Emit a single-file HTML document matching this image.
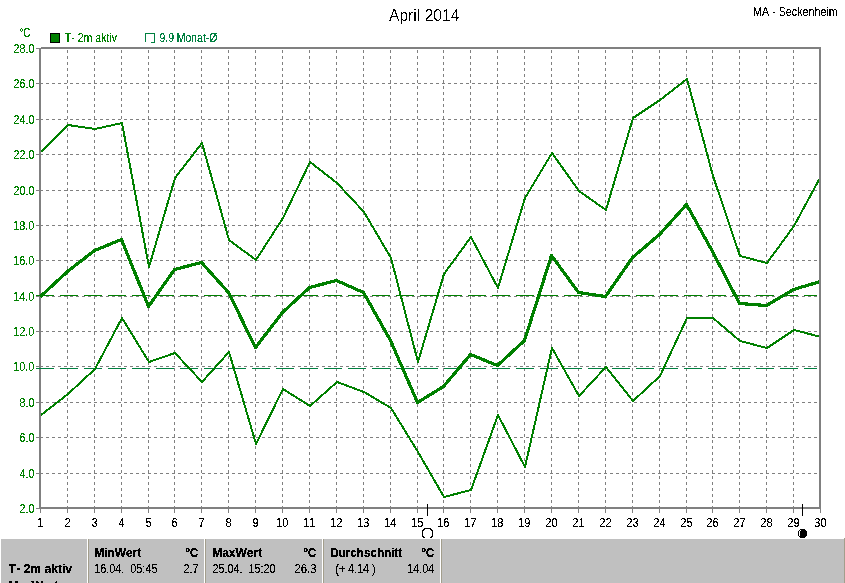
<!DOCTYPE html>
<html><head><meta charset="utf-8"><style>
html,body{margin:0;padding:0;background:#fff;width:845px;height:583px;overflow:hidden}
svg{display:block}
text{font-family:"Liberation Sans",sans-serif;font-kerning:none}
</style></head><body>
<svg width="845" height="583" viewBox="0 0 845 583">
<defs><clipPath id="pc"><rect x="0" y="49" width="819" height="458"/></clipPath><filter id="cr" x="0" y="0" width="100%" height="100%" filterUnits="userSpaceOnUse"><feComponentTransfer><feFuncA type="discrete" tableValues="0 1 1"/></feComponentTransfer></filter><filter id="cr2" x="0" y="0" width="100%" height="100%" filterUnits="userSpaceOnUse"><feComponentTransfer><feFuncA type="discrete" tableValues="0 0 0 1 1"/></feComponentTransfer></filter><filter id="crr" x="0" y="0" width="100%" height="100%" filterUnits="userSpaceOnUse"><feComponentTransfer><feFuncA type="discrete" tableValues="0 0 1 1 1"/></feComponentTransfer></filter></defs>

<path d="M67.5 50V507M94.5 50V507M121.5 50V507M148.5 50V507M174.5 50V507M201.5 50V507M228.5 50V507M255.5 50V507M282.5 50V507M309.5 50V507M336.5 50V507M363.5 50V507M390.5 50V507M417.5 50V507M443.5 50V507M470.5 50V507M497.5 50V507M524.5 50V507M551.5 50V507M578.5 50V507M605.5 50V507M632.5 50V507M659.5 50V507M686.5 50V507M712.5 50V507M739.5 50V507M766.5 50V507M793.5 50V507" stroke="#808080" stroke-width="1" stroke-dasharray="3 3" fill="none" shape-rendering="crispEdges"/>
<path d="M40 83.5H819M40 119.5H819M40 154.5H819M40 190.5H819M40 225.5H819M40 260.5H819M40 296.5H819M40 331.5H819M40 366.5H819M40 402.5H819M40 437.5H819M40 473.5H819" stroke="#808080" stroke-width="1" stroke-dasharray="3 3" fill="none" shape-rendering="crispEdges"/>
<path d="M36 48.5H39M36 83.5H39M36 119.5H39M36 154.5H39M36 190.5H39M36 225.5H39M36 260.5H39M36 296.5H39M36 331.5H39M36 366.5H39M36 402.5H39M36 437.5H39M36 473.5H39M36 508.5H39M40.5 506V513M67.5 506V513M94.5 506V513M121.5 506V513M148.5 506V513M174.5 506V513M201.5 506V513M228.5 506V513M255.5 506V513M282.5 506V513M309.5 506V513M336.5 506V513M363.5 506V513M390.5 506V513M417.5 506V513M443.5 506V513M470.5 506V513M497.5 506V513M524.5 506V513M551.5 506V513M578.5 506V513M605.5 506V513M632.5 506V513M659.5 506V513M686.5 506V513M712.5 506V513M739.5 506V513M766.5 506V513M793.5 506V513M820.5 506V513" stroke="#808080" stroke-width="1" fill="none" shape-rendering="crispEdges"/>
<path d="M41 47h780v462h-782v-461h2z M41 49v458h778v-458z" fill="#808080" fill-rule="evenodd" shape-rendering="crispEdges"/>
<path d="M36 295.5H817" stroke="#008000" stroke-width="1" stroke-dasharray="18 6" stroke-dashoffset="0" fill="none" shape-rendering="crispEdges"/>
<path d="M36 368.5H817" stroke="#008040" stroke-width="1" stroke-dasharray="18 6" stroke-dashoffset="0" fill="none" shape-rendering="crispEdges"/>
<g clip-path="url(#pc)">
<polyline points="41.0,152.0 68.0,125.0 95.0,129.0 122.0,123.0 149.0,267.0 175.0,178.0 202.0,143.0 229.0,240.0 256.0,260.0 283.0,218.0 310.0,162.0 337.0,183.0 364.0,212.0 391.0,258.0 418.0,362.0 444.0,274.0 471.0,237.0 498.0,288.0 525.0,198.0 552.0,153.0 579.0,191.0 606.0,210.0 633.0,118.0 660.0,100.0 687.0,79.0 713.0,176.0 740.0,256.0 767.0,263.0 794.0,226.0 821.0,176.0" stroke="#008000" stroke-width="2" fill="none" stroke-linejoin="round" shape-rendering="crispEdges"/>
<polyline points="41.0,415.0 68.0,394.0 95.0,369.0 122.0,318.0 149.0,362.0 175.0,353.0 202.0,382.0 229.0,352.0 256.0,444.0 283.0,389.0 310.0,406.0 337.0,382.0 364.0,392.0 391.0,408.0 418.0,452.0 444.0,497.0 471.0,490.0 498.0,415.0 525.0,467.0 552.0,348.0 579.0,396.0 606.0,367.0 633.0,401.0 660.0,376.0 687.0,318.0 713.0,318.0 740.0,341.0 767.0,348.0 794.0,330.0 821.0,337.0" stroke="#008000" stroke-width="2" fill="none" stroke-linejoin="round" shape-rendering="crispEdges"/>
<polyline points="40.5,296.5 67.5,271.5 94.5,250.5 121.5,239.5 148.5,306.5 174.5,269.5 201.5,262.5 228.5,292.5 255.5,347.5 282.5,312.5 309.5,287.5 336.5,280.5 363.5,292.5 390.5,340.5 417.5,402.5 443.5,386.5 470.5,354.5 497.5,365.5 524.5,340.5 551.5,255.5 578.5,292.5 605.5,296.5 632.5,257.5 659.5,234.5 686.5,204.5 712.5,251.5 739.5,303.5 766.5,305.5 793.5,289.5 820.5,281.5" stroke="#008000" stroke-width="3.2" fill="none" stroke-linejoin="round" shape-rendering="crispEdges"/>
</g>
<g filter="url(#cr2)"><text x="388.97" y="21.0" font-size="16.60" fill="#000" textLength="70.49" lengthAdjust="spacingAndGlyphs" xml:space="preserve">April 2014</text></g>
<rect x="50.5" y="33.5" width="9" height="9" fill="#008000" stroke="#000" stroke-width="1" shape-rendering="crispEdges"/>
<path d="M145.5 42V33.5H154.5V42.5H151" stroke="#008040" stroke-width="1" fill="none" shape-rendering="crispEdges"/>
<path d="M427.5 504V516M802.5 504V516" stroke="#000" stroke-width="1" fill="none" shape-rendering="crispEdges"/>
<path d="M424 528h7v1h-7zM423 529h2v1h-2zM430 529h2v1h-2zM422 530h2v1h-2zM431 530h2v1h-2zM422 531h1v1h-1zM432 531h1v1h-1zM422 532h1v1h-1zM432 532h1v1h-1zM422 533h1v1h-1zM432 533h1v1h-1zM422 534h1v1h-1zM432 534h1v1h-1zM422 535h1v1h-1zM432 535h1v1h-1zM422 536h2v1h-2zM431 536h2v1h-2zM423 537h2v1h-2zM430 537h2v1h-2z" fill="#000" shape-rendering="crispEdges"/>
<path d="M800 529h5v1h-5zM799 530h1v1h-1zM801 530h5v1h-5zM798 531h1v1h-1zM800 531h7v1h-7zM798 532h1v1h-1zM800 532h7v1h-7zM798 533h1v1h-1zM800 533h7v1h-7zM798 534h1v1h-1zM800 534h7v1h-7zM798 535h1v1h-1zM800 535h7v1h-7zM799 536h7v1h-7zM800 537h5v1h-5z" fill="#000" shape-rendering="crispEdges"/>
<rect x="1" y="539" width="843" height="44" fill="#c0c0c0"/>
<rect x="87" y="539" width="1" height="44" fill="#fff"/><rect x="88" y="539" width="1" height="44" fill="#a39e8c"/>
<rect x="204" y="539" width="1" height="44" fill="#fff"/><rect x="205" y="539" width="1" height="44" fill="#a39e8c"/>
<rect x="322" y="539" width="1" height="44" fill="#fff"/><rect x="323" y="539" width="1" height="44" fill="#a39e8c"/>
<rect x="440" y="539" width="1" height="44" fill="#fff"/><rect x="441" y="539" width="1" height="44" fill="#a39e8c"/>
<rect x="844" y="538" width="1" height="45" fill="#a39e8c"/>
<g filter="url(#crr)"><text x="13.46" y="53.0" font-size="12.50" fill="#008000" textLength="20.96" lengthAdjust="spacingAndGlyphs" xml:space="preserve">28.0</text>
<text x="13.46" y="88.0" font-size="12.50" fill="#008000" textLength="20.96" lengthAdjust="spacingAndGlyphs" xml:space="preserve">26.0</text>
<text x="13.46" y="124.0" font-size="12.50" fill="#008000" textLength="20.96" lengthAdjust="spacingAndGlyphs" xml:space="preserve">24.0</text>
<text x="13.46" y="159.0" font-size="12.50" fill="#008000" textLength="20.96" lengthAdjust="spacingAndGlyphs" xml:space="preserve">22.0</text>
<text x="13.46" y="195.0" font-size="12.50" fill="#008000" textLength="20.96" lengthAdjust="spacingAndGlyphs" xml:space="preserve">20.0</text>
<text x="13.17" y="230.0" font-size="12.50" fill="#008000" textLength="21.26" lengthAdjust="spacingAndGlyphs" xml:space="preserve">18.0</text>
<text x="13.17" y="265.0" font-size="12.50" fill="#008000" textLength="21.26" lengthAdjust="spacingAndGlyphs" xml:space="preserve">16.0</text>
<text x="13.17" y="301.0" font-size="12.50" fill="#008000" textLength="21.26" lengthAdjust="spacingAndGlyphs" xml:space="preserve">14.0</text>
<text x="13.17" y="336.0" font-size="12.50" fill="#008000" textLength="21.26" lengthAdjust="spacingAndGlyphs" xml:space="preserve">12.0</text>
<text x="13.17" y="371.0" font-size="12.50" fill="#008000" textLength="21.26" lengthAdjust="spacingAndGlyphs" xml:space="preserve">10.0</text>
<text x="19.53" y="407.0" font-size="12.50" fill="#008000" textLength="14.88" lengthAdjust="spacingAndGlyphs" xml:space="preserve">8.0</text>
<text x="19.45" y="442.0" font-size="12.50" fill="#008000" textLength="14.97" lengthAdjust="spacingAndGlyphs" xml:space="preserve">6.0</text>
<text x="19.76" y="478.0" font-size="12.50" fill="#008000" textLength="14.65" lengthAdjust="spacingAndGlyphs" xml:space="preserve">4.0</text>
<text x="19.46" y="513.0" font-size="12.50" fill="#008000" textLength="14.96" lengthAdjust="spacingAndGlyphs" xml:space="preserve">2.0</text>
<text x="19.42" y="37.0" font-size="12.50" fill="#008000" textLength="10.95" lengthAdjust="spacingAndGlyphs" xml:space="preserve">°C</text>
<text x="37.28" y="527.0" font-size="12.50" fill="#000" textLength="6.14" lengthAdjust="spacingAndGlyphs" xml:space="preserve">1</text>
<text x="64.43" y="527.0" font-size="12.50" fill="#000" textLength="6.14" lengthAdjust="spacingAndGlyphs" xml:space="preserve">2</text>
<text x="91.46" y="527.0" font-size="12.50" fill="#000" textLength="6.14" lengthAdjust="spacingAndGlyphs" xml:space="preserve">3</text>
<text x="118.47" y="527.0" font-size="12.50" fill="#000" textLength="6.14" lengthAdjust="spacingAndGlyphs" xml:space="preserve">4</text>
<text x="145.44" y="527.0" font-size="12.50" fill="#000" textLength="6.14" lengthAdjust="spacingAndGlyphs" xml:space="preserve">5</text>
<text x="171.39" y="527.0" font-size="12.50" fill="#000" textLength="6.14" lengthAdjust="spacingAndGlyphs" xml:space="preserve">6</text>
<text x="198.43" y="527.0" font-size="12.50" fill="#000" textLength="6.14" lengthAdjust="spacingAndGlyphs" xml:space="preserve">7</text>
<text x="225.43" y="527.0" font-size="12.50" fill="#000" textLength="6.14" lengthAdjust="spacingAndGlyphs" xml:space="preserve">8</text>
<text x="252.43" y="527.0" font-size="12.50" fill="#000" textLength="6.14" lengthAdjust="spacingAndGlyphs" xml:space="preserve">9</text>
<text x="276.16" y="527.0" font-size="12.50" fill="#000" textLength="12.27" lengthAdjust="spacingAndGlyphs" xml:space="preserve">10</text>
<text x="303.21" y="527.0" font-size="12.50" fill="#000" textLength="12.27" lengthAdjust="spacingAndGlyphs" xml:space="preserve">11</text>
<text x="330.22" y="527.0" font-size="12.50" fill="#000" textLength="12.27" lengthAdjust="spacingAndGlyphs" xml:space="preserve">12</text>
<text x="357.19" y="527.0" font-size="12.50" fill="#000" textLength="12.27" lengthAdjust="spacingAndGlyphs" xml:space="preserve">13</text>
<text x="384.11" y="527.0" font-size="12.50" fill="#000" textLength="12.27" lengthAdjust="spacingAndGlyphs" xml:space="preserve">14</text>
<text x="411.18" y="527.0" font-size="12.50" fill="#000" textLength="12.27" lengthAdjust="spacingAndGlyphs" xml:space="preserve">15</text>
<text x="437.19" y="527.0" font-size="12.50" fill="#000" textLength="12.27" lengthAdjust="spacingAndGlyphs" xml:space="preserve">16</text>
<text x="464.22" y="527.0" font-size="12.50" fill="#000" textLength="12.27" lengthAdjust="spacingAndGlyphs" xml:space="preserve">17</text>
<text x="491.18" y="527.0" font-size="12.50" fill="#000" textLength="12.27" lengthAdjust="spacingAndGlyphs" xml:space="preserve">18</text>
<text x="518.21" y="527.0" font-size="12.50" fill="#000" textLength="12.27" lengthAdjust="spacingAndGlyphs" xml:space="preserve">19</text>
<text x="545.30" y="527.0" font-size="12.50" fill="#000" textLength="12.27" lengthAdjust="spacingAndGlyphs" xml:space="preserve">20</text>
<text x="572.36" y="527.0" font-size="12.50" fill="#000" textLength="12.27" lengthAdjust="spacingAndGlyphs" xml:space="preserve">21</text>
<text x="599.36" y="527.0" font-size="12.50" fill="#000" textLength="12.27" lengthAdjust="spacingAndGlyphs" xml:space="preserve">22</text>
<text x="626.33" y="527.0" font-size="12.50" fill="#000" textLength="12.27" lengthAdjust="spacingAndGlyphs" xml:space="preserve">23</text>
<text x="653.25" y="527.0" font-size="12.50" fill="#000" textLength="12.27" lengthAdjust="spacingAndGlyphs" xml:space="preserve">24</text>
<text x="680.32" y="527.0" font-size="12.50" fill="#000" textLength="12.27" lengthAdjust="spacingAndGlyphs" xml:space="preserve">25</text>
<text x="706.33" y="527.0" font-size="12.50" fill="#000" textLength="12.27" lengthAdjust="spacingAndGlyphs" xml:space="preserve">26</text>
<text x="733.36" y="527.0" font-size="12.50" fill="#000" textLength="12.27" lengthAdjust="spacingAndGlyphs" xml:space="preserve">27</text>
<text x="760.33" y="527.0" font-size="12.50" fill="#000" textLength="12.27" lengthAdjust="spacingAndGlyphs" xml:space="preserve">28</text>
<text x="787.35" y="527.0" font-size="12.50" fill="#000" textLength="12.27" lengthAdjust="spacingAndGlyphs" xml:space="preserve">29</text>
<text x="814.37" y="527.0" font-size="12.50" fill="#000" textLength="12.27" lengthAdjust="spacingAndGlyphs" xml:space="preserve">30</text>
<text x="753.12" y="16.0" font-size="12.50" fill="#000" textLength="84.59" lengthAdjust="spacingAndGlyphs" xml:space="preserve">MA - Seckenheim</text>
<text x="64.76" y="42.0" font-size="12.50" fill="#008000" textLength="52.27" lengthAdjust="spacingAndGlyphs" xml:space="preserve">T- 2m aktiv</text>
<text x="159.51" y="42.0" font-size="12.50" fill="#008040" textLength="57.84" lengthAdjust="spacingAndGlyphs" xml:space="preserve">9.9 Monat-Ø</text>
<text x="94.17" y="573.0" font-size="12.50" fill="#000" textLength="63.28" lengthAdjust="spacingAndGlyphs" xml:space="preserve">16.04.  05:45</text>
<text x="183.45" y="573.0" font-size="12.50" fill="#000" textLength="15.09" lengthAdjust="spacingAndGlyphs" xml:space="preserve">2.7</text>
<text x="212.46" y="573.0" font-size="12.50" fill="#000" textLength="62.96" lengthAdjust="spacingAndGlyphs" xml:space="preserve">25.04.  15:20</text>
<text x="294.43" y="573.0" font-size="12.50" fill="#000" textLength="22.07" lengthAdjust="spacingAndGlyphs" xml:space="preserve">26.3</text>
<text x="335.33" y="573.0" font-size="12.50" fill="#000" textLength="40.33" lengthAdjust="spacingAndGlyphs" xml:space="preserve">(+ 4.14 )</text>
<text x="407.17" y="573.0" font-size="12.50" fill="#000" textLength="27.14" lengthAdjust="spacingAndGlyphs" xml:space="preserve">14.04</text></g>
<g filter="url(#cr)"><text x="8.86" y="573.0" font-size="12.50" fill="#000" font-weight="bold" textLength="63.19" lengthAdjust="spacingAndGlyphs" xml:space="preserve">T- 2m aktiv</text>
<text x="8.20" y="590.0" font-size="12.50" fill="#000" font-weight="bold" textLength="49.95" lengthAdjust="spacingAndGlyphs" xml:space="preserve">MaxWert</text>
<text x="94.20" y="557.0" font-size="12.50" fill="#000" font-weight="bold" textLength="46.94" lengthAdjust="spacingAndGlyphs" xml:space="preserve">MinWert</text>
<text x="185.50" y="557.0" font-size="12.50" fill="#000" font-weight="bold" textLength="12.81" lengthAdjust="spacingAndGlyphs" xml:space="preserve">°C</text>
<text x="212.20" y="557.0" font-size="12.50" fill="#000" font-weight="bold" textLength="49.95" lengthAdjust="spacingAndGlyphs" xml:space="preserve">MaxWert</text>
<text x="303.50" y="557.0" font-size="12.50" fill="#000" font-weight="bold" textLength="12.81" lengthAdjust="spacingAndGlyphs" xml:space="preserve">°C</text>
<text x="330.22" y="557.0" font-size="12.50" fill="#000" font-weight="bold" textLength="71.92" lengthAdjust="spacingAndGlyphs" xml:space="preserve">Durchschnitt</text>
<text x="421.50" y="557.0" font-size="12.50" fill="#000" font-weight="bold" textLength="12.81" lengthAdjust="spacingAndGlyphs" xml:space="preserve">°C</text></g>
</svg></body></html>
